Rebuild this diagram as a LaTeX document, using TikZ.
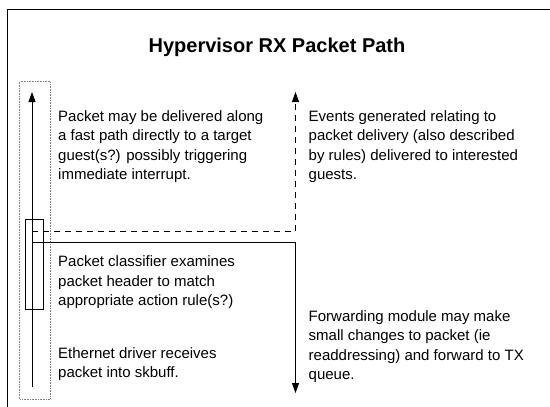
\documentclass[tikz,border=0pt]{standalone}
\usepackage{fontspec}
\setmainfont{Liberation Sans}
\usetikzlibrary{arrows.meta}
\tikzset{
  frameline/.style={line width=1pt, black},
  flowline/.style={line width=1pt, black},
  tip/.style={-{Triangle[width=7pt,length=10pt]}},
  dashline/.style={line width=1pt, dash pattern=on 6pt off 5pt},
  dotbox/.style={draw=gray, line width=0.6pt, densely dotted},
  body/.style={anchor=base west, inner sep=0pt, align=left, font=\fontsize{15}{19.4}\selectfont},
  titletext/.style={anchor=base, inner sep=0pt, font=\fontsize{20}{24}\selectfont\bfseries}
}
\begin{document}
\begin{tikzpicture}[x=1pt,y=-1pt]
\useasboundingbox (0,0) rectangle (550,407);
% outer frame (clipped at right and bottom)
\draw[frameline] (7,410) -- (7,9) -- (552,9);
\node[titletext] (title) at (277,52) {Hypervisor RX Packet Path};
% dotted box
\draw[dotbox] (19.5,81.5) rectangle (50,399);
% classifier box
\draw[flowline] (25.5,219) rectangle (43.5,309);
% coordinates
\coordinate (lbot) at (32,387);
\coordinate (ltop) at (32,92);
\coordinate (dstart) at (32,231);
\coordinate (dcorner) at (295.5,231);
\coordinate (dtop) at (295.5,92);
\coordinate (sstart) at (32,242.5);
\coordinate (scorner) at (295.5,242.5);
\coordinate (sbot) at (295.5,393);
% main upward arrow
\draw[flowline,tip] (lbot) -- (ltop);
% dashed event path
\draw[dashline,tip] (dstart) -- (dcorner) -- (dtop);
% forwarding path
\draw[flowline,tip] (sstart) -- (scorner) -- (sbot);
% texts (base anchor = baseline of last line)
\node[body] (t1) at (58,179.5) {Packet may be delivered along\\a fast path directly to a target\\guest(s?) possibly triggering\\immediate interrupt.};
\node[body] (t2) at (58,305.5) {Packet classifier examines\\packet header to match\\appropriate action rule(s?)};
\node[body] (t3) at (58,377.5) {Ethernet driver receives\\packet into skbuff.};
\node[body] (t4) at (308.5,179.5) {Events generated relating to\\packet delivery (also described\\by rules) delivered to interested\\guests.};
\node[body] (t5) at (308.5,379.5) {Forwarding module may make\\small changes to packet (ie\\readdressing) and forward to TX\\queue.};
\end{tikzpicture}
\end{document}
